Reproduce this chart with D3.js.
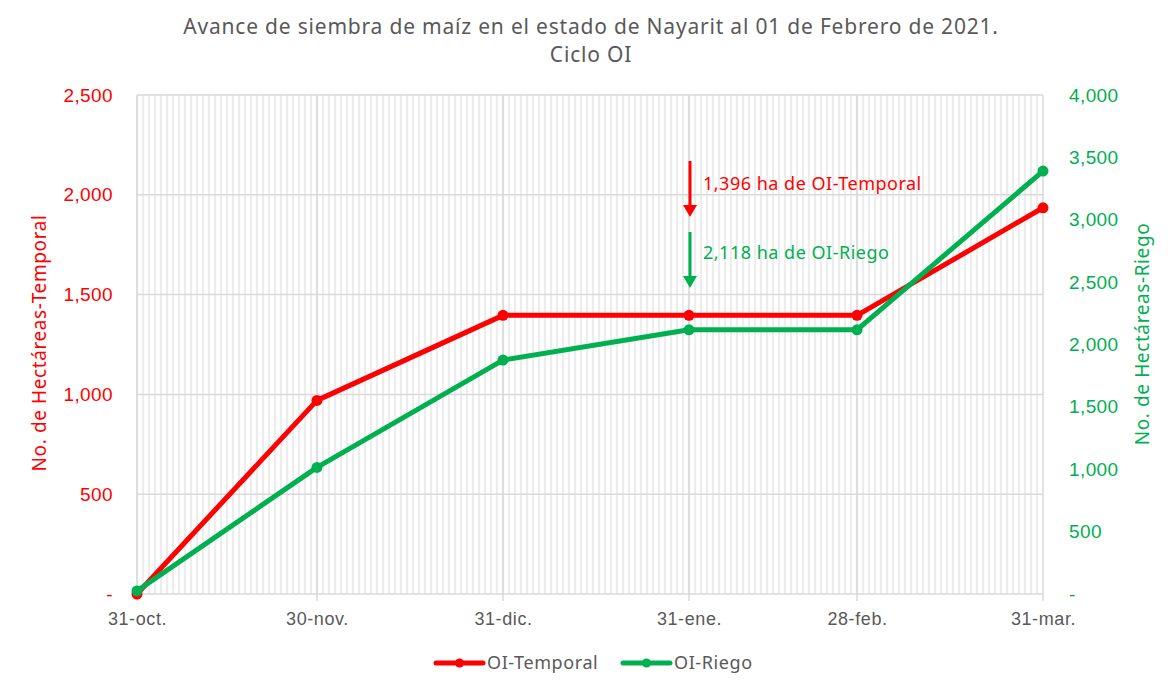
<!DOCTYPE html>
<html>
<head>
<meta charset="utf-8">
<script src="https://cdn.jsdelivr.net/npm/d3@7"></script>
<style>
  body { margin: 0; background: #fff; }
  svg { font-family: 'Noto Sans', sans-serif; }
</style>
</head>
<body>
<svg id="canvas"></svg>
<script>
let width = 1174;
let height = 691;

// datos
const fechas = ['2020-10-31', '2020-11-30', '2020-12-31', '2021-01-31', '2021-02-28', '2021-03-31'];
const etiquetas = ['31-oct.', '30-nov.', '31-dic.', '31-ene.', '28-feb.', '31-mar.'];
const temporal = [0, 970, 1396, 1396, 1396, 1935];
const riego = [25, 1015, 1875, 2118, 2118, 3390];
const ticksTemporal = [0, 500, 1000, 1500, 2000, 2500];
const ticksRiego = [0, 500, 1000, 1500, 2000, 2500, 3000, 3500, 4000];

const rojo = '#ff0000';
const verde = '#00b050';
const gris = '#595959';

let parse = d3.timeParse('%Y-%m-%d');
let dates = fechas.map(parse);

let canvas = d3.select('#canvas').attr('width', width).attr('height', height);

let xScale = d3.scaleTime()
    .domain([dates[0], dates[dates.length - 1]])
    .range([137, 1043]);
let yLeft = d3.scaleLinear().domain([0, 2500]).range([594, 95]);
let yRight = d3.scaleLinear().domain([0, 4000]).range([594, 95]);

let fmt = (d) => d === 0 ? '-' : d3.format(',')(d);

// rejilla diaria
let grid = canvas.append('g');
grid.selectAll('.minor')
    .data(d3.timeDay.range(dates[0], dates[dates.length - 1]))
    .enter()
    .append('line')
    .attr('x1', (d) => xScale(d))
    .attr('x2', (d) => xScale(d))
    .attr('y1', yLeft(2500))
    .attr('y2', yLeft(0))
    .attr('stroke', '#ededed')
    .attr('stroke-width', 2);

grid.selectAll('.hgrid')
    .data(ticksTemporal)
    .enter()
    .append('line')
    .attr('x1', xScale(dates[0]))
    .attr('x2', xScale(dates[dates.length - 1]))
    .attr('y1', (d) => yLeft(d))
    .attr('y2', (d) => yLeft(d))
    .attr('stroke', '#d9d9d9')
    .attr('stroke-width', 1.5);

grid.selectAll('.major')
    .data(dates)
    .enter()
    .append('line')
    .attr('x1', (d) => xScale(d))
    .attr('x2', (d) => xScale(d))
    .attr('y1', yLeft(2500))
    .attr('y2', yLeft(0) + 7)
    .attr('stroke', '#d9d9d9')
    .attr('stroke-width', 1.5);

// ejes
let xAxis = d3.axisBottom(xScale)
    .tickValues(dates)
    .tickFormat((d, i) => etiquetas[i])
    .tickSize(0)
    .tickPadding(18);
canvas.append('g')
    .attr('transform', `translate(0, ${yLeft(0)})`)
    .call(xAxis)
    .call((g) => g.select('.domain').remove())
    .selectAll('text')
    .attr('fill', gris)
    .style('font-size', '18px')
    .style('letter-spacing', '0.6px');

let leftAxis = d3.axisLeft(yLeft).tickValues(ticksTemporal).tickFormat(fmt).tickSize(0).tickPadding(24);
canvas.append('g')
    .attr('transform', `translate(137, 0)`)
    .call(leftAxis)
    .call((g) => g.select('.domain').remove())
    .selectAll('text')
    .attr('fill', rojo)
    .style('font-size', '19px')
    .style('letter-spacing', '0.4px');

let rightAxis = d3.axisRight(yRight).tickValues(ticksRiego).tickFormat(fmt).tickSize(0).tickPadding(26);
canvas.append('g')
    .attr('transform', `translate(1043, 0)`)
    .call(rightAxis)
    .call((g) => g.select('.domain').remove())
    .selectAll('text')
    .attr('fill', verde)
    .style('font-size', '19px')
    .style('letter-spacing', '0.4px');

// titulos de ejes
canvas.append('text')
    .attr('transform', 'translate(46, 343) rotate(-90)')
    .attr('text-anchor', 'middle')
    .attr('fill', rojo)
    .style('font-size', '19px')
    .style('letter-spacing', '0.6px')
    .text('No. de Hectáreas-Temporal');

canvas.append('text')
    .attr('transform', 'translate(1149, 334) rotate(-90)')
    .attr('text-anchor', 'middle')
    .attr('fill', verde)
    .style('font-size', '19px')
    .style('letter-spacing', '0.6px')
    .text('No. de Hectáreas-Riego');

// titulo
let title = canvas.append('text')
    .attr('text-anchor', 'middle')
    .attr('fill', gris)
    .style('font-size', '21px')
    .style('letter-spacing', '0.8px');
title.append('tspan').attr('x', 591).attr('y', 34)
    .text('Avance de siembra de maíz en el estado de Nayarit al 01 de Febrero de 2021.');
title.append('tspan').attr('x', 591).attr('y', 62).text('Ciclo OI');

// series
let drawSerie = (values, scale, color) => {
    let pts = values.map((v, i) => [dates[i], v]);
    canvas.append('path')
        .datum(pts)
        .attr('fill', 'none')
        .attr('stroke', color)
        .attr('stroke-width', 5)
        .attr('stroke-linejoin', 'round')
        .attr('d', d3.line().x((d) => xScale(d[0])).y((d) => scale(d[1])));
    canvas.append('g')
        .selectAll('circle')
        .data(pts)
        .enter()
        .append('circle')
        .attr('cx', (d) => xScale(d[0]))
        .attr('cy', (d) => scale(d[1]))
        .attr('r', 5.5)
        .attr('fill', color);
};
drawSerie(temporal, yLeft, rojo);
drawSerie(riego, yRight, verde);

// anotaciones
let arrow = (x, y1, y2, color) => {
    canvas.append('line')
        .attr('x1', x).attr('x2', x)
        .attr('y1', y1).attr('y2', y2 - 10)
        .attr('stroke', color).attr('stroke-width', 3);
    canvas.append('path')
        .attr('d', `M${x - 7},${y2 - 12} L${x + 7},${y2 - 12} L${x},${y2} Z`)
        .attr('fill', color);
};
let xa = xScale(dates[3]) + 1;
arrow(xa, 161, 217, rojo);
arrow(xa, 232, 288, verde);
canvas.append('text').attr('x', 703).attr('y', 190).attr('fill', rojo)
    .style('font-size', '18px').style('letter-spacing', '0.5px')
    .text('1,396 ha de OI-Temporal');
canvas.append('text').attr('x', 703).attr('y', 259).attr('fill', verde)
    .style('font-size', '18px').style('letter-spacing', '0.5px')
    .text('2,118 ha de OI-Riego');

// leyenda
let legend = [['OI-Temporal', rojo, 436], ['OI-Riego', verde, 623]];
legend.forEach(([name, color, x]) => {
    let g = canvas.append('g').attr('transform', `translate(${x}, 663)`);
    g.append('line').attr('x1', 0).attr('x2', 47).attr('stroke', color)
        .attr('stroke-width', 5).attr('stroke-linecap', 'round');
    g.append('circle').attr('cx', 23.5).attr('r', 4.5).attr('fill', color);
    g.append('text').attr('x', 51).attr('y', 6).attr('fill', gris)
        .style('font-size', '18px').style('letter-spacing', '0.6px').text(name);
});
</script>
</body>
</html>
